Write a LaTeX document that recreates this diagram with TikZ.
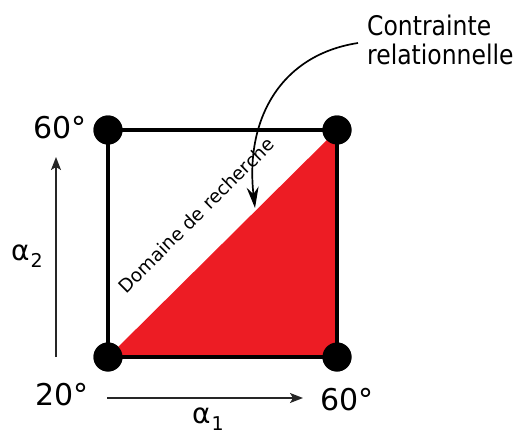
\documentclass[tikz,border=0pt]{standalone}
\usepackage{fontspec}
\setmainfont{DejaVu Sans}
\newfontfamily\condfont[FakeStretch=0.87]{DejaVu Sans}
\usetikzlibrary{arrows.meta}
\definecolor{zonered}{RGB}{237,28,36}
\begin{document}
\begin{tikzpicture}[x=1pt,y=-1pt,
  dot/.style={circle,fill=black,minimum size=29pt,inner sep=0pt},
  frame/.style={line width=4.5pt,line join=miter},
  axisarrow/.style={line width=1.5pt,black!85,-{Stealth[length=13pt,width=10pt,inset=3pt]}},
  callout/.style={line width=1.7pt,black,-{Stealth[length=21pt,width=12pt,inset=7pt]}},
  deglbl/.style={inner sep=0pt,anchor=base west,font=\fontsize{30}{30}\selectfont},
  alphalbl/.style={inner sep=0pt,anchor=base west,font=\fontsize{28}{28}\selectfont},
  notelbl/.style={inner sep=0pt,anchor=north west,align=left,font=\condfont\fontsize{27}{30}\selectfont},
  diaglbl/.style={inner sep=0pt,anchor=base,rotate=44.8,font=\fontsize{18.5}{18.5}\selectfont}
]
\useasboundingbox (0,0) rectangle (515,431);
% corners
\node[dot] (tl) at (108,130) {};
\node[dot] (tr) at (337,130) {};
\node[dot] (bl) at (108,357) {};
\node[dot] (br) at (337,357) {};
% red region
\fill[zonered] (bl.center) -- (br.center) -- (tr.center) -- cycle;
\draw[frame] (tl.center) -- (tr.center) -- (br.center) -- (bl.center) -- cycle;
% dots on top of the frame
\node[dot] at (tl) {};
\node[dot] at (tr) {};
\node[dot] at (bl) {};
\node[dot] at (br) {};
% diagonal label
\node[diaglbl] (dom) at (201,220) {Domaine de recherche};
% corner labels
\node[deglbl] (l60a) at (33,138) {60°};
\node[deglbl] (l20) at (35,405) {20°};
\node[deglbl] (l60b) at (320,410) {60°};
% axes
\coordinate (a2s) at (56,357);
\coordinate (a2e) at (56,157);
\coordinate (a1s) at (107,398);
\coordinate (a1e) at (303,398);
\draw[axisarrow] (a2s) -- (a2e);
\draw[axisarrow] (a1s) -- (a1e);
\node[alphalbl] (al2) at (11,260) {α\kern1pt\raisebox{-7pt}{\fontsize{19}{19}\selectfont 2}};
\node[alphalbl] (al1) at (192,423) {α\kern1pt\raisebox{-7pt}{\fontsize{19}{19}\selectfont 1}};
% constraint note
\node[notelbl] (note) at (367,14.5) {Contrainte\\[-0.5pt]relationnelle};
\coordinate (cs) at (358,43);
\coordinate (ce) at (255,208);
\draw[callout] (cs) .. controls (280,55) and (245,120) .. (ce);
\end{tikzpicture}
\end{document}
